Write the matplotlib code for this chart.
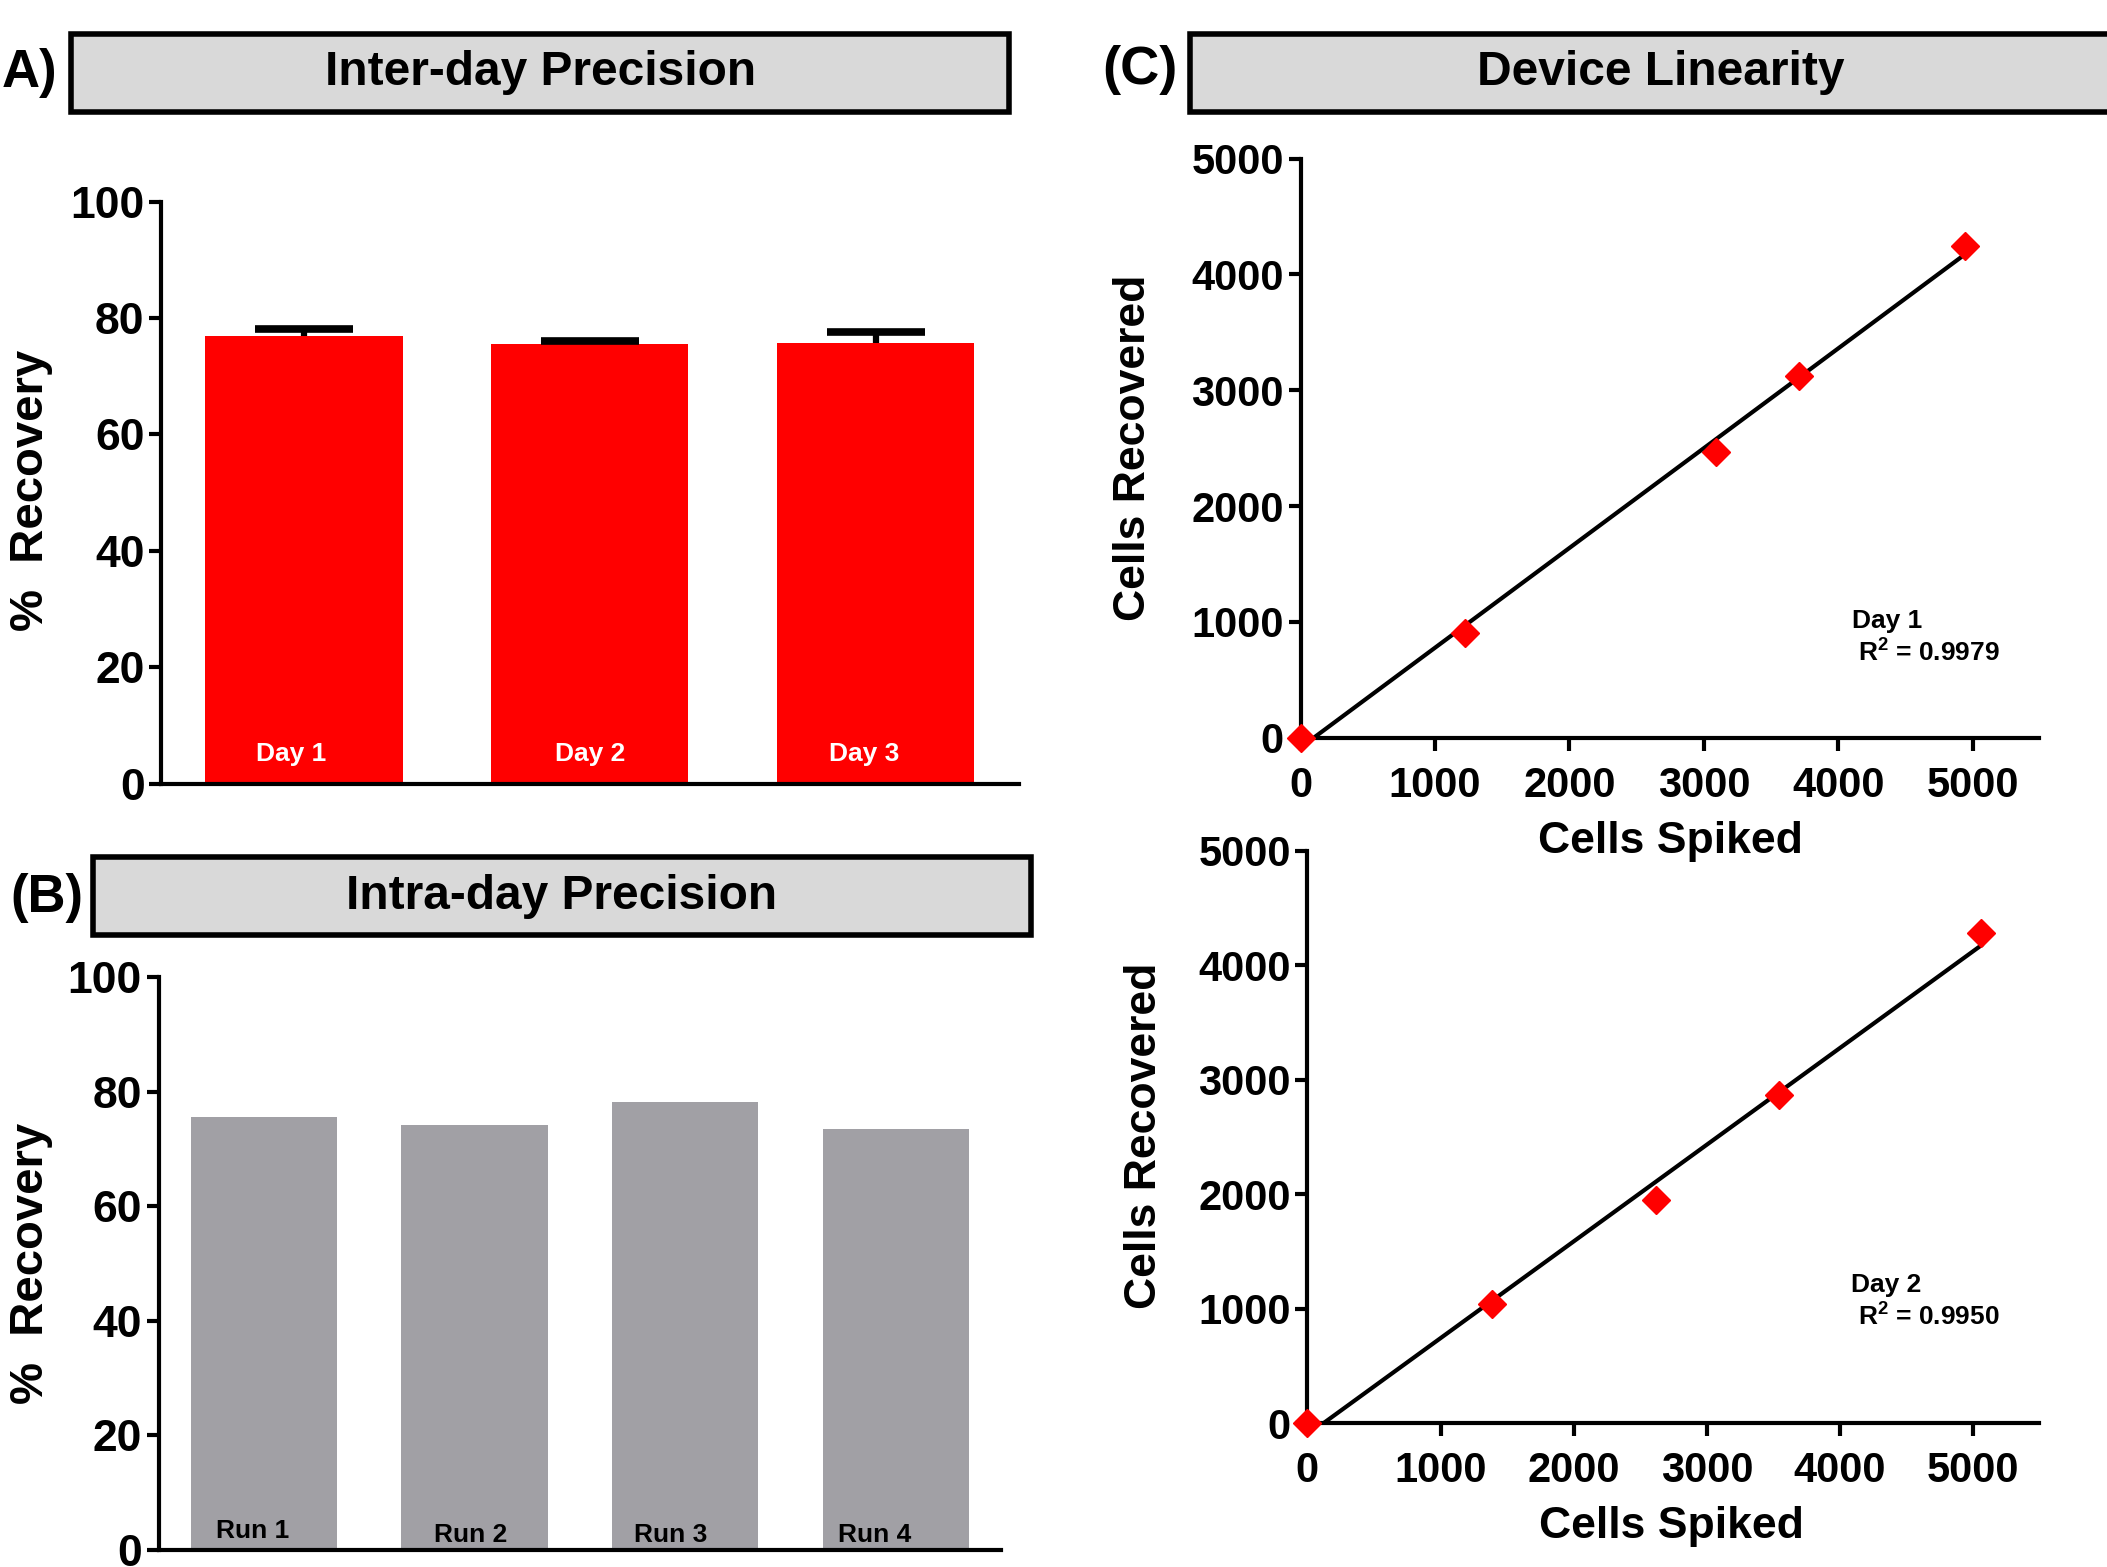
import numpy as np
import matplotlib
matplotlib.use("Agg")
import matplotlib.pyplot as plt
from matplotlib.patches import Rectangle

plt.rcParams['font.family'] = ['Liberation Sans', 'DejaVu Sans']
plt.rcParams['font.weight'] = 'bold'
plt.rcParams['mathtext.fontset'] = 'custom'
plt.rcParams['mathtext.rm'] = 'Liberation Sans:bold'
plt.rcParams['mathtext.bf'] = 'Liberation Sans:bold'
plt.rcParams['mathtext.it'] = 'Liberation Sans:bold'

# ---------------- data ----------------
inter_days = ["Day 1", "Day 2", "Day 3"]
inter_recovery = [76.9, 75.6, 75.7]
inter_err = [1.2, 0.4, 1.9]

intra_runs = ["Run 1", "Run 2", "Run 3", "Run 4"]
intra_recovery = [75.6, 74.2, 78.2, 73.5]

day1_spiked = [0, 1220, 3090, 3710, 4940]
day1_recovered = [0, 905, 2471, 3121, 4246]
day1_r2 = "0.9979"

day2_spiked = [0, 1384, 2616, 3545, 5061]
day2_recovered = [0, 1045, 1948, 2864, 4284]
day2_r2 = "0.9950"

bar_ticks = [0, 20, 40, 60, 80, 100]
lin_ticks = [0, 1000, 2000, 3000, 4000, 5000]

RED = "#ff0000"
GRAY = "#a1a0a5"
BOXFILL = "#d9d9d9"

fig = plt.figure(figsize=(21.07, 15.67), dpi=100)


def style_axes(ax, tick_fs=28, xpad=3):
    for s in ["top", "right"]:
        ax.spines[s].set_visible(False)
    for s in ["left", "bottom"]:
        ax.spines[s].set_linewidth(3)
    ax.tick_params(axis="both", which="major", length=9, width=3,
                   labelsize=tick_fs, pad=3, direction="out")
    ax.tick_params(axis="x", pad=xpad)
    for lab in ax.get_xticklabels() + ax.get_yticklabels():
        lab.set_fontweight("bold")


def title_box(x0, x1, y0, y1, text, tx):
    rect = Rectangle((x0, y0), x1 - x0, y1 - y0, transform=fig.transFigure,
                     facecolor=BOXFILL, edgecolor="black", linewidth=4,
                     clip_on=False, zorder=1)
    fig.add_artist(rect)
    fig.text(tx, (y0 + y1) / 2, text, ha="center", va="center",
             fontsize=34.5, fontweight="bold", zorder=2)


# ---------------- Panel A ----------------
axA = fig.add_axes([0.0765, 0.500, 0.4069, 0.3714])
xa = np.arange(len(inter_days))
vals = np.asarray(inter_recovery)
errs = np.asarray(inter_err)
axA.bar(xa, vals, width=0.69, color=RED, zorder=2)
# upper-only error bars: stem + top cap
axA.vlines(xa, vals, vals + errs, colors="black", linewidth=4.5, zorder=3)
axA.plot(xa, vals + errs, linestyle="none", marker="_", markersize=70,
         markeredgewidth=5.5, color="black", zorder=3)
day_label_dx = [-0.045, 0.0, -0.04]
for x, lab, dx in zip(xa, inter_days, day_label_dx):
    axA.text(x + dx, 5.1, lab, color="white", ha="center", va="center",
             fontsize=19, fontweight="bold", zorder=4)
axA.set_xlim(-0.5, 2.5)
axA.set_ylim(0, 100)
axA.set_yticks(bar_ticks)
axA.set_xticks([])
style_axes(axA, 32)

# ---------------- Panel B ----------------
axB = fig.add_axes([0.0753, 0.0111, 0.3998, 0.3654])
xb = np.arange(len(intra_runs))
axB.bar(xb, intra_recovery, width=0.694, color=GRAY, zorder=2)
run_label_dx = [-0.054, -0.02, -0.067, -0.10]
run_label_y = [3.3, 2.6, 2.6, 2.6]
for x, lab, dx, yy in zip(xb, intra_runs, run_label_dx, run_label_y):
    axB.text(x + dx, yy, lab, color="black", ha="center", va="center",
             fontsize=19, fontweight="bold", zorder=4)
axB.set_xlim(-0.5, 3.5)
axB.set_ylim(0, 100)
axB.set_yticks(bar_ticks)
axB.set_xticks([])
style_axes(axB, 32)

# ---------------- Panel C ----------------
def lin_panel(rect, xs, ys, day, r2, ann_pos):
    ax = fig.add_axes(rect)
    xs = np.asarray(xs, float)
    ys = np.asarray(ys, float)
    m, b = np.polyfit(xs, ys, 1)
    xl = np.array([max(0.0, -b / m), xs.max()])
    ax.plot(xl, m * xl + b, color="black", linewidth=3, zorder=2)
    ax.plot(xs, ys, linestyle="none", marker="D", markersize=14,
            color=RED, clip_on=False, zorder=3)
    ax.set_xlim(0, 5490)
    ax.set_ylim(0, 5000)
    ax.set_xticks(lin_ticks)
    ax.set_yticks(lin_ticks)
    style_axes(ax, 30, xpad=11)
    ax.text(ann_pos[0], ann_pos[1], day, transform=ax.transAxes,
            fontsize=19, fontweight="bold", ha="left", va="center")
    ax.text(ann_pos[0] + 0.009, ann_pos[1] - 0.056, r"R$^{2}$ = " + r2,
            transform=ax.transAxes, fontsize=19, fontweight="bold",
            ha="left", va="center")
    return ax


axC1 = lin_panel([0.6173, 0.5292, 0.3502, 0.3696], day1_spiked,
                 day1_recovered, "Day 1", day1_r2, (0.747, 0.202))
axC2 = lin_panel([0.6205, 0.0918, 0.3470, 0.3653], day2_spiked,
                 day2_recovered, "Day 2", day2_r2, (0.744, 0.242))

# ---------------- titles / labels ----------------
title_box(0.0338, 0.4790, 0.9288, 0.9786, "Inter-day Precision", 0.2564)
title_box(0.0440, 0.4892, 0.4031, 0.4528, "Intra-day Precision", 0.2666)
title_box(0.5650, 1.0100, 0.9288, 0.9786, "Device Linearity", 0.7880)

fig.text(0.014, 0.9537, "A)", ha="center", va="center", fontsize=38,
         fontweight="bold")
fig.text(0.0223, 0.4271, "(B)", ha="center", va="center", fontsize=38,
         fontweight="bold")
fig.text(0.541, 0.9554, "(C)", ha="center", va="center", fontsize=39,
         fontweight="bold")

fig.text(0.0145, 0.687, "%  Recovery", rotation=90, ha="center", va="center",
         fontsize=34, fontweight="bold")
fig.text(0.0145, 0.194, "%  Recovery", rotation=90, ha="center", va="center",
         fontsize=34, fontweight="bold")
fig.text(0.538, 0.714, "Cells Recovered", rotation=90, ha="center",
         va="center", fontsize=32, fontweight="bold")
fig.text(0.543, 0.275, "Cells Recovered", rotation=90, ha="center",
         va="center", fontsize=32, fontweight="bold")
fig.text(0.7927, 0.4631, "Cells Spiked", ha="center", va="center",
         fontsize=32, fontweight="bold")
fig.text(0.7934, 0.0257, "Cells Spiked", ha="center", va="center",
         fontsize=32, fontweight="bold")

fig.savefig("out.png", dpi=100)
